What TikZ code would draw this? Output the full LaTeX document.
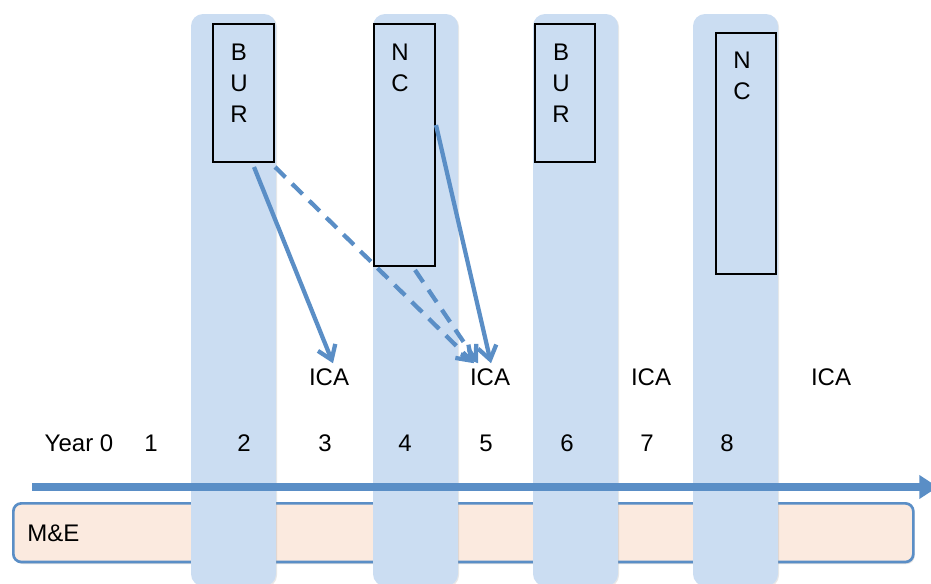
\documentclass[tikz,border=0pt]{standalone}
\usepackage{fontspec}
\setmainfont{Liberation Sans}
\usetikzlibrary{arrows.meta,calc,shadows}
\definecolor{colfill}{HTML}{CBDDF2}
\definecolor{arrblue}{HTML}{5A8EC6}
\definecolor{mefill}{HTML}{FBEADF}
\begin{document}
\begin{tikzpicture}[x=0.75pt,y=-0.75pt,
  column/.style={fill=colfill,rounded corners=9pt,draw=none,
    drop shadow={shadow xshift=0.8pt,shadow yshift=-0.8pt,opacity=0.18}},
  reportbox/.style={draw=black,line width=1.5pt,fill=colfill,inner sep=0pt,anchor=north west},
  lbl/.style={font=\fontsize{18}{20}\selectfont,inner sep=0pt},
  flow/.style={draw=arrblue,line width=3.2pt,-{Straight Barb[length=10pt,width=14pt,line width=3.2pt]}},
  dflow/.style={flow,dash pattern=on 11pt off 7pt}]
\useasboundingbox (0,0) rectangle (931,583);
% M&E band
\node[draw=arrblue,line width=2pt,fill=mefill,rounded corners=6pt,
  minimum width=675pt,minimum height=44pt,inner sep=0pt,anchor=north west,
  drop shadow={shadow xshift=1pt,shadow yshift=-1.5pt,opacity=0.25}] (me) at (12,502) {};
\node[lbl,anchor=west] (melbl) at (27,533) {M\&E};
% columns
\foreach \n/\xa in {c1/191,c2/373,c3/533,c4/693}{
  \path[column] (\xa,14) rectangle ++(85,572);
}
% time axis
\coordinate (axs) at (32,487);
\coordinate (axe) at (938,487);
\draw[arrblue,line width=6pt,-{Triangle[length=14pt,width=17pt]}] (axs) -- (axe);
% report boxes
\node[reportbox,minimum width=45.75pt,minimum height=103.5pt] (bur1) at (212,23) {};
\node[reportbox,minimum width=45.75pt,minimum height=181.5pt] (nc1) at (373,23) {};
\node[reportbox,minimum width=45pt,minimum height=103.5pt] (bur2) at (534,23) {};
\node[reportbox,minimum width=45pt,minimum height=180.75pt] (nc2) at (715,32) {};
\node[lbl,align=center,anchor=north] (t1) at (239,44) {B\\[3pt]U\\[3pt]R};
\node[lbl,align=center,anchor=north] (t2) at (400,44) {N\\[3pt]C};
\node[lbl,align=center,anchor=north] (t3) at (561,44) {B\\[3pt]U\\[3pt]R};
\node[lbl,align=center,anchor=north] (t4) at (742,52) {N\\[3pt]C};
% ICA labels
\node[lbl] (ica3) at (329,377) {ICA};
\node[lbl] (ica5) at (490,377) {ICA};
\node[lbl] (ica7) at (651,377) {ICA};
\node[lbl] (ica9) at (831,377) {ICA};
% year labels
\node[lbl] (y0) at (79,443) {Year 0};
\foreach \n/\xx in {1/151,2/244,3/325,4/405,5/486,6/567,7/647,8/727}{
  \node[lbl] (y\n) at (\xx,443) {\n};
}
% arrows
\coordinate (a1s) at ($(bur1.south west)+(42,4)$);
\coordinate (a1e) at ($(ica3.north)+(4,-5)$);
\coordinate (d1s) at ($(bur1.south east)+(0,4)$);
\coordinate (d1e) at ($(ica5.north)+(-16,-5)$);
\coordinate (d2s) at ($(nc1.south west)+(42,3)$);
\coordinate (d2e) at ($(ica5.north)+(-12,-5)$);
\coordinate (a2s) at ($(nc1.north east)+(0,102)$);
\coordinate (a2e) at ($(ica5.north)+(1,-5)$);
\draw[flow] (a1s) -- (a1e);
\draw[dflow] (d1s) -- (d1e);
\draw[dflow] (d2s) -- (d2e);
\draw[flow] (a2s) -- (a2e);
\end{tikzpicture}
\end{document}
